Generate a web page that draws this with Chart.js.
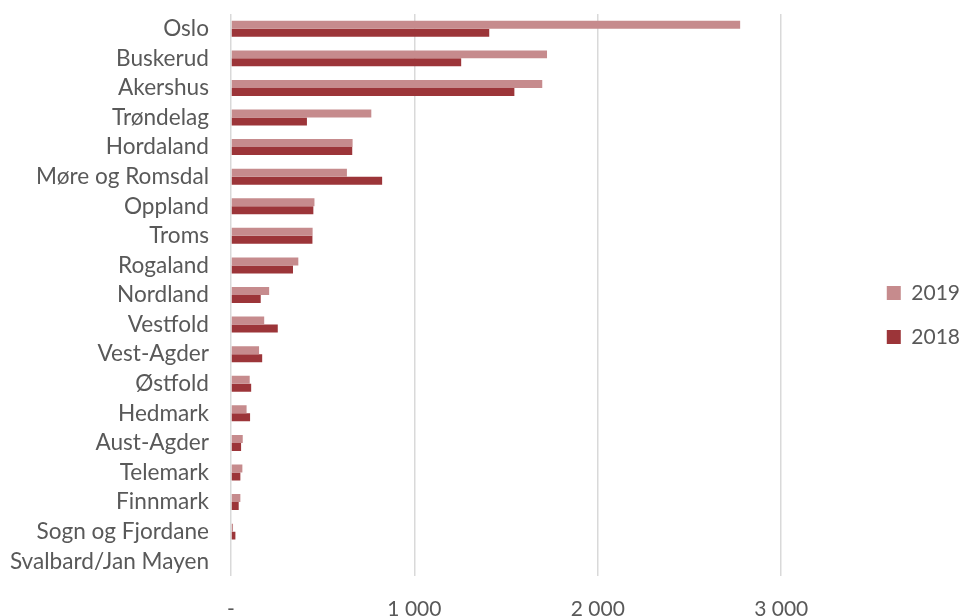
<!DOCTYPE html>
<html>
<head>
<meta charset="utf-8">
<script src="https://cdn.jsdelivr.net/npm/chart.js@4.4.1/dist/chart.umd.min.js"></script>
<style>
    html, body { margin: 0; padding: 0; background: #fff; }
    #wrap { width: 960px; height: 616px; }
</style>
</head>
<body>
<div id="wrap"><canvas id="fylkeChart" width="960" height="616"></canvas></div>
<script>
// Data
const categories = [
    "Oslo", "Buskerud", "Akershus", "Trøndelag", "Hordaland", "Møre og Romsdal",
    "Oppland", "Troms", "Rogaland", "Nordland", "Vestfold", "Vest-Agder",
    "Østfold", "Hedmark", "Aust-Agder", "Telemark", "Finnmark",
    "Sogn og Fjordane", "Svalbard/Jan Mayen",
];
const values2019 = [2776, 1723, 1697, 765, 663, 632, 455, 445, 367, 208, 181, 153, 102, 85, 64, 62, 51, 11, 0];
const values2018 = [1408, 1255, 1545, 414, 661, 824, 449, 444, 338, 162, 255, 170, 110, 104, 55, 51, 42, 24, 0];
const seriesLabels = ["2019", "2018"];
const tickValues = [0, 1000, 2000, 3000];

const textColor = "#595959";
const fontFamily = "Lato, 'Open Sans', sans-serif";

function formatTick(value) {
    if (value === 0) return "-";
    return String(value).replace(/\B(?=(\d{3})+(?!\d))/g, " ");
}

const ctx = document.getElementById("fylkeChart");

new Chart(ctx, {
    type: "bar",
    data: {
        labels: categories,
        datasets: [
            {
                label: seriesLabels[0],
                data: values2019,
                backgroundColor: "#C68B8D",
                borderWidth: 0,
            },
            {
                label: seriesLabels[1],
                data: values2018,
                backgroundColor: "#9C3539",
                borderWidth: 0,
            },
        ],
    },
    options: {
        indexAxis: "y",
        responsive: false,
        animation: false,
        categoryPercentage: 0.54,
        barPercentage: 1.0,
        layout: {
            padding: { top: 14, right: -10, bottom: 0, left: 0 },
        },
        scales: {
            x: {
                min: 0,
                max: 3450,
                border: { display: false },
                grid: {
                    color: "#D9D9D9",
                    lineWidth: 1.5,
                    drawTicks: false,
                },
                afterBuildTicks: (scale) => {
                    scale.ticks = tickValues.map((v) => ({ value: v }));
                },
                afterFit: (scale) => {
                    scale.height = 40;
                },
                ticks: {
                    padding: 21,
                    color: textColor,
                    font: { family: fontFamily, size: 21 },
                    maxRotation: 0,
                    callback: (value) => formatTick(value),
                },
            },
            y: {
                border: { display: false },
                grid: { display: false, drawTicks: false },
                afterFit: (scale) => {
                    // fixed label column, no extra top/bottom padding from the labels
                    scale.width = 231;
                    scale.paddingTop = 0;
                    scale.paddingBottom = 0;
                },
                ticks: {
                    padding: 22,
                    color: textColor,
                    autoSkip: false,
                    font: { family: fontFamily, size: 22.6 },
                },
            },
        },
        plugins: {
            legend: {
                position: "right",
                labels: {
                    boxWidth: 14,
                    boxHeight: 14,
                    padding: 23,
                    color: textColor,
                    font: { family: fontFamily, size: 21 },
                },
            },
            tooltip: { enabled: false },
        },
    },
});
</script>
</body>
</html>
